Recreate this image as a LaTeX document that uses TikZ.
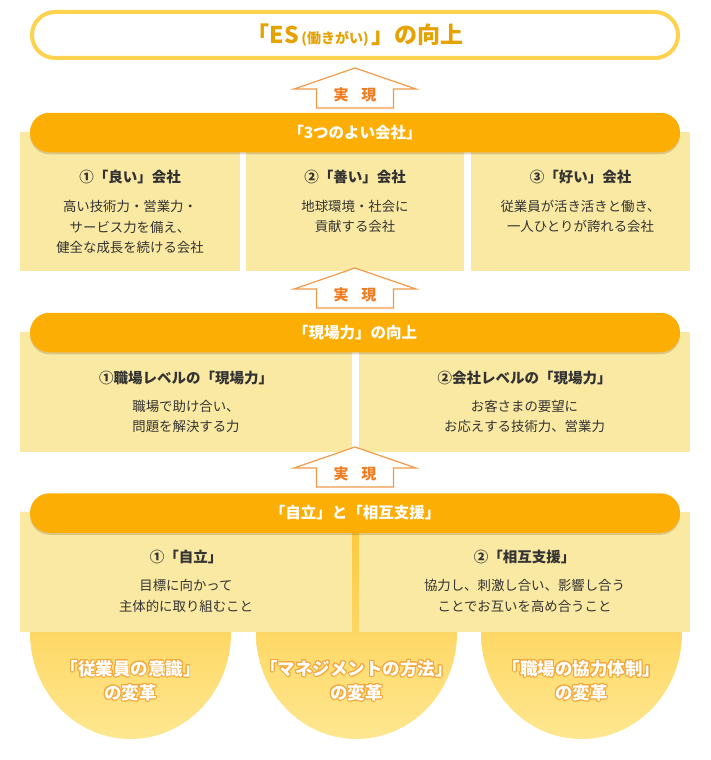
\documentclass[tikz,border=0pt]{standalone}
\usepackage{fontspec}
\setmainfont{Noto Sans CJK JP}
\usepackage[copies]{contour}
\usetikzlibrary{shadows}
\definecolor{gold}{HTML}{FDD24E}
\definecolor{goldtext}{HTML}{E5A200}
\definecolor{barfill}{HTML}{FCAE05}
\definecolor{panelfill}{HTML}{FAE9A3}
\definecolor{arrowline}{HTML}{F29A48}
\definecolor{arrowtext}{HTML}{F07C20}
\definecolor{ink}{HTML}{333333}
\definecolor{balltop}{HTML}{FDC93C}
\definecolor{ballbot}{HTML}{FEE790}
\definecolor{glow}{HTML}{F4A83A}
\contourlength{0.9pt}
\tikzset{
	goalbox/.style={draw=gold,line width=4pt,fill=white,rounded corners=23pt,minimum width=646pt,minimum height=46pt,inner sep=0pt,text=goldtext},
	bar/.style={fill=barfill,rounded corners=19.5pt,minimum width=650pt,minimum height=39.5pt,inner sep=0pt,text=white,font=\bfseries\fontsize{15.5}{18}\selectfont,drop shadow={opacity=0.18,shadow xshift=0pt,shadow yshift=-2pt,fill=black!70!orange}},
	panel/.style={fill=panelfill},
	ptitle/.style={text=ink,font=\bfseries\fontsize{14.5}{18}\selectfont},
	pbody/.style={text=ink,align=center,font=\fontsize{13.4}{20.3}\selectfont},
	rise/.style={draw=arrowline,fill=white,line width=1.2pt,line join=miter},
	riselbl/.style={text=arrowtext,font=\bfseries\fontsize{15}{17}\selectfont},
	ball/.style={top color=balltop,middle color=balltop,bottom color=ballbot},
	balltxt/.style={text=white,align=center,font=\bfseries\fontsize{17.5}{24}\selectfont}
}
\newcommand{\riseArrow}[2]{%
	\filldraw[rise] (355,#1) -- ++(61,21) -- ++(-22.5,0) -- ++(0,19) -- ++(-77,0) -- ++(0,-19) -- ++(-22.5,0) -- cycle;
	\node[riselbl] (#2) at (355,#1+27) {実\hspace{13pt}現};
}
\begin{document}
\begin{tikzpicture}[x=1pt,y=-1pt]
	\useasboundingbox (0,0) rectangle (710,760);

	% bottom: three halves of balls
	\shade[ball] (130.5,633) ellipse [x radius=100.5,y radius=106];
	\shade[ball] (356.5,633) ellipse [x radius=100.5,y radius=106];
	\shade[ball] (581.5,633) ellipse [x radius=100.5,y radius=106];
	\node[balltxt] (staff) at (130.5,681) {\contour{glow}{「従業員の意識」}\\\contour{glow}{の変革}};
	\node[balltxt] (manage) at (356.5,681) {\contour{glow}{「マネジメントの方法」}\\\contour{glow}{の変革}};
	\node[balltxt] (team) at (581.5,681) {\contour{glow}{「職場の協力体制」}\\\contour{glow}{の変革}};

	% goal
	\node[goalbox] (goal) at (355,35) {\bfseries\fontsize{23}{25}\selectfont 「ES{\fontsize{14}{16}\selectfont\,(働きがい)\,}」の向上};

	% row 1
	\riseArrow{68}{rise1}
	\fill[panel] (20,132) rectangle (240,271);
	\fill[panel] (246,132) rectangle (464,271);
	\fill[panel] (471,132) rectangle (690,271);
	\node[bar] (good) at (355,132.5) {「3つのよい会社」};
	\node[ptitle] (good1) at (130,177) {①「良い」会社};
	\node[ptitle] (good2) at (355,177) {②「善い」会社};
	\node[ptitle] (good3) at (580.5,177) {③「好い」会社};
	\node[pbody] (good1b) at (130,227) {高い技術力・営業力・\\サービス力を備え、\\健全な成長を続ける会社};
	\node[pbody] (good2b) at (355,216.5) {地球環境・社会に\\貢献する会社};
	\node[pbody] (good3b) at (580.5,216.5) {従業員が活き活きと働き、\\一人ひとりが誇れる会社};

	% row 2
	\riseArrow{268}{rise2}
	\fill[panel] (20,332) rectangle (352,452);
	\fill[panel] (359,332) rectangle (690,452);
	\node[bar] (genba) at (355,332.5) {「現場力」の向上};
	\node[ptitle] (genba1) at (186,378) {①職場レベルの「現場力」};
	\node[ptitle] (genba2) at (524.5,378) {②会社レベルの「現場力」};
	\node[pbody] (genba1b) at (186,416.5) {職場で助け合い、\\問題を解決する力};
	\node[pbody] (genba2b) at (524.5,416.5) {お客さまの要望に\\お応えする技術力、営業力};

	% row 3
	\riseArrow{447}{rise3}
	\fill[panel] (20,512) rectangle (352,632);
	\fill[panel] (359,512) rectangle (690,632);
	\node[bar] (jiritsu) at (355,513) {「自立」と「相互支援」};
	\node[ptitle] (jiritsu1) at (186,557) {①「自立」};
	\node[ptitle] (jiritsu2) at (524.5,557) {②「相互支援」};
	\node[pbody] (jiritsu1b) at (186,596) {目標に向かって\\主体的に取り組むこと};
	\node[pbody] (jiritsu2b) at (524.5,596) {協力し、刺激し合い、影響し合う\\ことでお互いを高め合うこと};
\end{tikzpicture}
\end{document}
